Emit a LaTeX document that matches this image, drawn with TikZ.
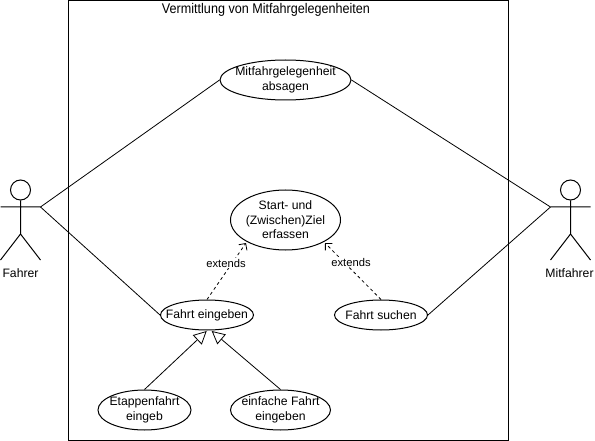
\documentclass[tikz,border=0pt]{standalone}
\usepackage{fontspec}
\setmainfont{Liberation Sans}
\usetikzlibrary{shapes.geometric,arrows.meta}
\tikzset{
  every picture/.style={x=1pt,y=-1pt},
  ucbox/.style={draw,line width=1pt,ellipse,inner sep=0pt,fill=white},
  uctext/.style={font=\fontsize{12.2}{14.5}\selectfont,align=center,inner sep=0pt},
  line/.style={line width=0.8pt},
  actorline/.style={line width=1pt},
  extendline/.style={line width=0.8pt,dashed,dash pattern=on 3pt off 3pt,-{Straight Barb[length=5pt,width=10pt,line width=0.8pt]}},
  genline/.style={line width=0.8pt,-{Triangle[open,length=13pt,width=13pt,line width=0.8pt,fill=white]}},
  extlabel/.style={font=\fontsize{11.2}{13}\selectfont,fill=white,inner sep=1pt}
}
\begin{document}
\begin{tikzpicture}
\useasboundingbox (0,0) rectangle (595,441);
\fill[white] (0,0) rectangle (595,441);
\node[draw,line width=1pt,minimum width=440pt,minimum height=439.5pt,inner sep=0pt,anchor=north west] (sys) at (67.5,0.5) {};
\node[font=\fontsize{14}{16}\selectfont,inner sep=0pt,xscale=0.9] (title) at (266,9.5) {Vermittlung von Mitfahrgelegenheiten};

% actors
\node[draw,circle,line width=1pt,minimum size=20pt,inner sep=0pt] (headA) at (20.5,190) {};
\coordinate (armAl) at (0.5,207); \coordinate (armAr) at (40.5,207);
\coordinate (hipA) at (20.5,234);
\coordinate (legAl) at (0.5,260); \coordinate (legAr) at (40.5,260);
\draw[actorline] (headA.south) -- (hipA) (armAl) -- (armAr) (legAl) -- (hipA) -- (legAr);
\node[uctext] (fahrer) at (20.5,273.5) {Fahrer};

\node[draw,circle,line width=1pt,minimum size=20pt,inner sep=0pt] (headB) at (570.5,190) {};
\coordinate (armBl) at (550.5,207); \coordinate (armBr) at (590.5,207);
\coordinate (hipB) at (570.5,234);
\coordinate (legBl) at (550.5,260); \coordinate (legBr) at (590.5,260);
\draw[actorline] (headB.south) -- (hipB) (armBl) -- (armBr) (legBl) -- (hipB) -- (legBr);
\node[uctext] (mitfahrer) at (569.5,273.5) {Mitfahrer};

% use cases
\node[ucbox,minimum width=131pt,minimum height=40pt] (absagen) at (285.5,80) {};
\node[ucbox,minimum width=110pt,minimum height=60pt] (ziel) at (285.5,220) {};
\node[ucbox,minimum width=93pt,minimum height=30pt] (eingeben) at (207,315) {};
\node[ucbox,minimum width=93pt,minimum height=30pt] (suchen) at (381,315) {};
\node[ucbox,minimum width=93pt,minimum height=40pt] (etappe) at (144.5,410) {};
\node[ucbox,minimum width=100pt,minimum height=40pt] (einfach) at (280.5,410) {};

% connectors
\draw[line] (armAr) -- (absagen.west);
\draw[line] (armAr) -- (eingeben.west);
\draw[line] (armBl) -- (absagen.east);
\draw[line] (armBl) -- (suchen.east);
\coordinate (zielL) at (246,243);
\coordinate (zielR) at (325,243);
\draw[extendline] (eingeben.north) -- (zielL);
\draw[extendline] (suchen.north) -- (zielR);
\node[extlabel] (ext1) at (226,263) {extends};
\node[extlabel] (ext2) at (351,262) {extends};
\coordinate (tipL) at (206.7,331);
\coordinate (tipR) at (211.7,331);
\draw[genline] (etappe.north) -- (tipL);
\draw[genline] (einfach.north) -- (tipR);

% case texts
\node[uctext] (tabsagen) at (absagen) {Mitfahrgelegenheit\\absagen};
\node[uctext] (tziel) at (ziel) {Start- und\\(Zwischen)Ziel\\erfassen};
\node[uctext] (teingeben) at (eingeben) {Fahrt eingeben};
\node[uctext] (tsuchen) at (suchen) {Fahrt suchen};
\node[uctext] (tetappe) at (etappe) {Etappenfahrt\\eingeb};
\node[uctext] (teinfach) at (einfach) {einfache Fahrt\\eingeben};
\end{tikzpicture}
\end{document}
